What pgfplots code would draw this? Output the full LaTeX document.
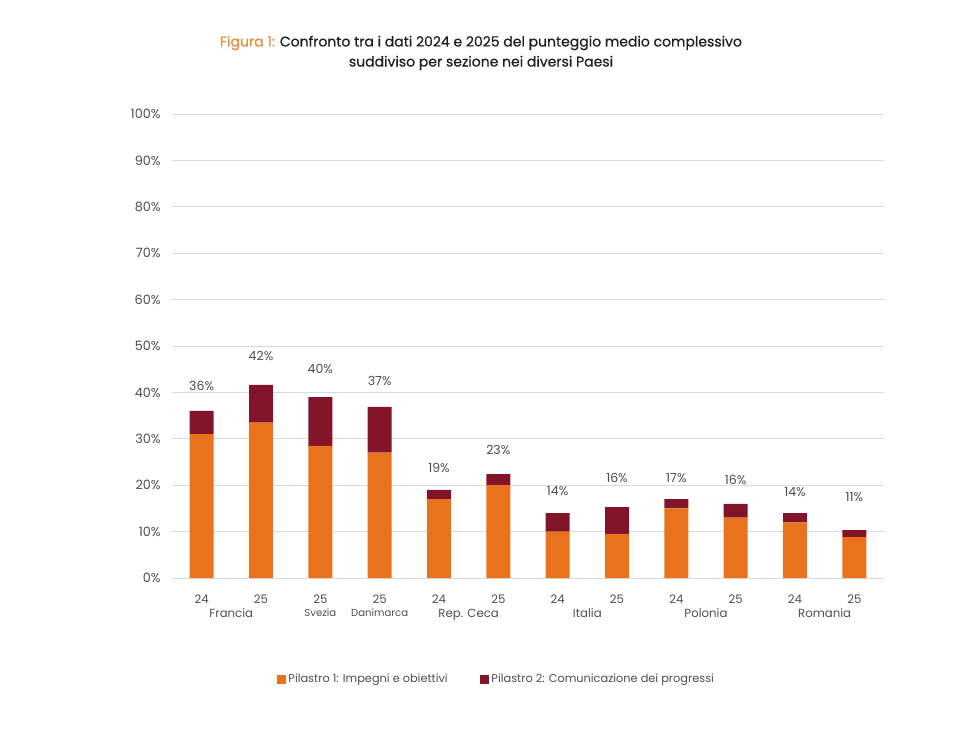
\documentclass[border=0pt]{standalone}
\usepackage{fontspec}
\setmainfont{Poppins}
\newfontfamily\titlefont{Poppins}[FakeBold=0.6]
\usepackage{pgfplots}
\pgfplotsset{compat=1.18}
\usepackage{pgfplotstable}
\definecolor{orng}{HTML}{E8731C}
\definecolor{dred}{HTML}{82142A}
\definecolor{ttlorng}{HTML}{EA8A3C}
\definecolor{txt}{HTML}{4D4D4D}
\definecolor{gridc}{HTML}{DADADA}

\pgfplotstableread{
x p1 p2
0 31.0 5.0
1 33.5 8.1
2 28.5 10.5
3 27.0 9.9
4 17.0 2.0
5 20.0 2.4
6 10.0 4.0
7 9.5 5.8
8 15.0 2.0
9 13.0 3.0
10 12.0 2.0
11 8.8 1.5
}\bars

\pgfplotstableread{
x y label
0 41.4 36\%
1 47.8 42\%
2 45.0 40\%
3 42.5 37\%
4 23.7 19\%
5 27.6 23\%
6 18.8 14\%
7 21.6 16\%
8 21.6 17\%
9 21.2 16\%
10 18.5 14\%
11 17.5 11\%
}\labs

\begin{document}
\begin{tikzpicture}
\path[use as bounding box] (0,0) rectangle (716.25pt,-549pt);
\node[font=\titlefont\fontsize{10.5pt}{13pt}\selectfont, text=black!88] at (360.75pt,-32.25pt)
  {\textcolor{ttlorng}{Figura 1:} Confronto tra i dati 2024 e 2025 del punteggio medio complessivo};
\node[font=\titlefont\fontsize{10.5pt}{13pt}\selectfont, text=black!88] at (360.75pt,-47.25pt)
  {suddiviso per sezione nei diversi Paesi};
\begin{axis}[
  at={(129pt,-433.5pt)}, anchor=south west,
  scale only axis, width=534pt, height=348pt,
  ybar stacked, bar width=18pt,
  xmin=-0.5, xmax=11.5, ymin=0, ymax=100,
  axis line style={draw=none},
  major tick length=0pt,
  ymajorgrids, grid style={gridc, line width=0.6pt},
  ytick={0,10,...,100},
  yticklabel={\pgfmathprintnumber{\tick}\%},
  y tick label style={font=\fontsize{9.6pt}{11pt}\selectfont, text=txt, xshift=-5pt},
  xtick={0,...,11},
  xticklabels={24,25,25,25,24,25,24,25,24,25,24,25},
  x tick label style={font=\fontsize{8.8pt}{10pt}\selectfont, text=txt, yshift=-9pt},
  extra x ticks={0.5,2,3,4.5,6.5,8.5,10.5},
  extra x tick labels={Francia,{\fontsize{7.6pt}{9pt}\selectfont Svezia},{\fontsize{7.6pt}{9pt}\selectfont Danimarca},Rep. Ceca,Italia,Polonia,Romania},
  extra x tick style={grid=none, tick label style={font=\fontsize{9.6pt}{11pt}\selectfont, text=txt, yshift=-10.5pt}},
  /pgf/number format/assume math mode=true,
  legend columns=2,
  legend style={at={(0.456,-0.218)}, anchor=center, draw=none, fill=none,
    font=\fontsize{8.5pt}{10pt}\selectfont, text=txt,
    /tikz/every even column/.append style={column sep=22pt}},
  legend image code/.code={\fill[#1] (0pt,-3.4pt) rectangle (6.8pt,3.4pt);},
]
\addplot[fill=orng, draw=none] table[x=x, y=p1] {\bars};
\addlegendentry{Pilastro 1: Impegni e obiettivi}
\addplot[fill=dred, draw=none] table[x=x, y=p2] {\bars};
\addlegendentry{Pilastro 2: Comunicazione dei progressi}
\end{axis}
\begin{axis}[
  at={(129pt,-433.5pt)}, anchor=south west,
  scale only axis, width=534pt, height=348pt,
  xmin=-0.5, xmax=11.5, ymin=0, ymax=100,
  hide axis,
]
\addplot[draw=none, mark=none,
  nodes near coords, point meta=explicit symbolic,
  every node near coord/.style={anchor=center, font=\fontsize{9.4pt}{11pt}\selectfont, text=txt}]
  table[x=x, y=y, meta=label] {\labs};
\end{axis}
\end{tikzpicture}
\end{document}
